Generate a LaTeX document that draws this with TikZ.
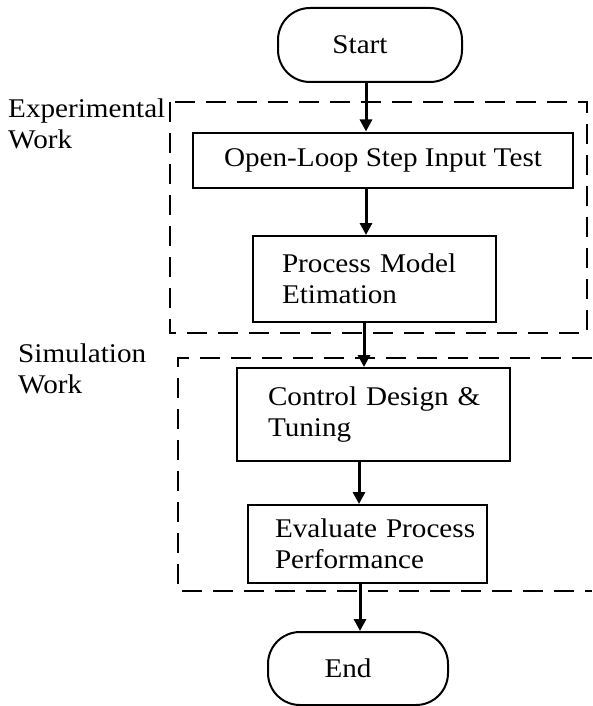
\documentclass[tikz,border=0pt]{standalone}
\usepackage{fontspec}
\setmainfont[FakeStretch=1.08]{Liberation Serif}
\usetikzlibrary{arrows.meta}
\begin{document}
\begin{tikzpicture}[x=1pt,y=-1pt,
  every node/.style={font=\fontsize{27}{31}\selectfont, text=black},
  procbox/.style={draw, line width=2pt, inner sep=0pt, align=left},
  term/.style={draw, line width=2pt, rounded corners=32pt, inner sep=0pt},
  region/.style={line width=1.7pt, dash pattern=on 20pt off 11pt},
  flow/.style={line width=3pt, -{Triangle[width=12pt,length=12pt]}},
  lbl/.style={align=left, anchor=base west, inner sep=0pt}]

\useasboundingbox (0,0) rectangle (592,706);

% dashed regions grouping the two phases
\draw[region] (170,102) rectangle (587,333);
\draw[region] (592,358) -- (178,358) -- (178,591) -- (592,591);

% region labels (base anchor sits on the last line)
\node[lbl] (explbl) at (8,148) {Experimental\\Work};
\node[lbl] (simlbl) at (18,393) {Simulation\\Work};

% flow steps; text width only fixes where the left-aligned lines start
\node[term, minimum width=184pt, minimum height=74pt] (start) at (370,45) {\hspace*{-20pt}Start};
\node[procbox, minimum width=380pt, minimum height=55pt] (open) at (383,160) {Open-Loop Step Input Test};
\node[procbox, text width=185pt, minimum width=243pt, minimum height=86pt] (model) at (374.5,279) {\mbox{Process Model}\\\mbox{Etimation}};
\node[procbox, text width=211pt, minimum width=273pt, minimum height=93pt] (design) at (373.5,414.5) {\mbox{Control Design \&}\\\mbox{Tuning}};
\node[procbox, text width=185pt, minimum width=239pt, minimum height=78pt] (eval) at (367.5,544) {\mbox{Evaluate Process}\\\mbox{Performance}};
\node[term, minimum width=180pt, minimum height=73pt] (finish) at (358,668.5) {\hspace*{-20pt}End};

% arrow columns
\coordinate (c1) at (366,0);
\coordinate (c2) at (364,0);
\coordinate (c3) at (359,0);
\coordinate (c4) at (360,0);

\draw[flow] (start.south -| c1) -- (open.north -| c1);
\draw[flow] (open.south -| c1) -- (model.north -| c1);
\draw[flow] (model.south -| c2) -- (design.north -| c2);
\draw[flow] (design.south -| c3) -- (eval.north -| c3);
\draw[flow] (eval.south -| c4) -- (finish.north -| c4);
\end{tikzpicture}
\end{document}
